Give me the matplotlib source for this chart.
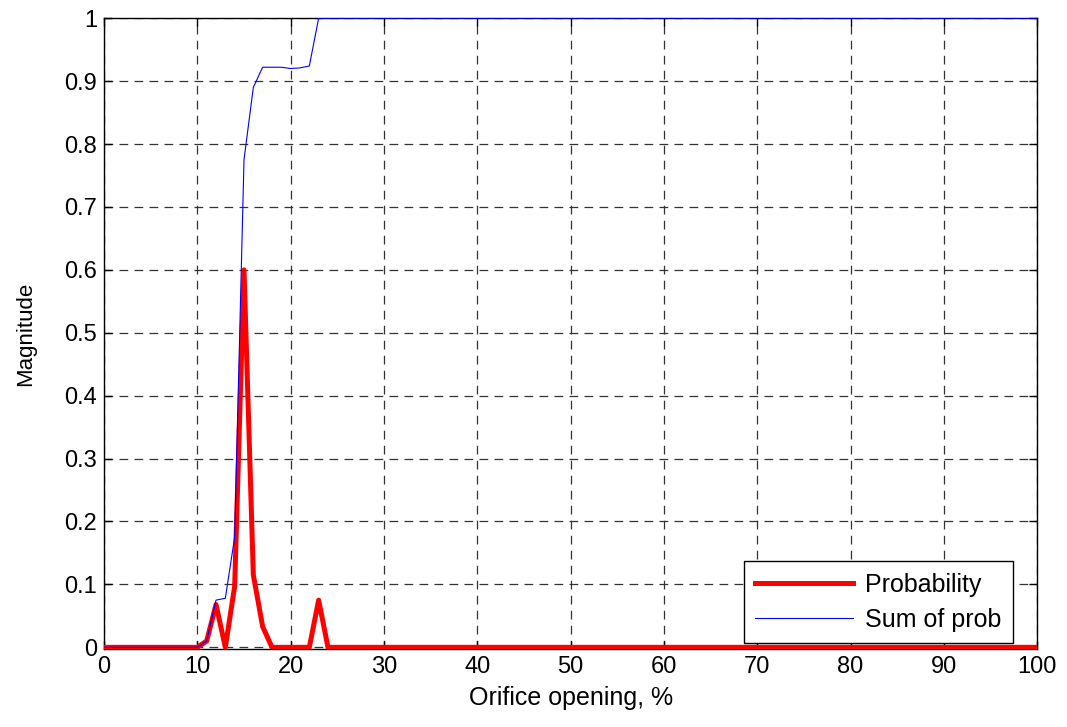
import numpy as np
import matplotlib
matplotlib.use('Agg')
import matplotlib.pyplot as plt

plt.rcParams['font.family'] = ['Liberation Sans', 'DejaVu Sans']

# orifice opening, percent
x = np.arange(0, 101)

# probability per opening step, 0..24 (zero beyond)
prob_head = [0, 0, 0, 0, 0, 0, 0, 0, 0, 0, 0,
             0.01, 0.068, 0.0, 0.097, 0.6, 0.115, 0.033, 0.0,
             0.0, 0.0, 0.0, 0.0, 0.075, 0.0]
# running sum of probability, 0..24 (one beyond)
sum_head = [0, 0, 0, 0, 0, 0, 0, 0, 0, 0, 0,
            0.01, 0.075, 0.078, 0.175, 0.775, 0.89, 0.922, 0.922,
            0.922, 0.92, 0.921, 0.924, 1.0, 1.0]

prob = np.array(prob_head + [0.0] * (len(x) - len(prob_head)))
cum = np.array(sum_head + [1.0] * (len(x) - len(sum_head)))

fig = plt.figure(figsize=(10.67, 7.27), dpi=100)
ax = fig.add_axes([0.0975, 0.107, 0.8745, 0.868])

ax.plot(x, prob, color='red', lw=3.6, label='Probability', zorder=3)
ax.plot(x, cum, color='blue', lw=0.8, label='Sum of prob', zorder=4)

ax.set_xlim(0, 100)
ax.set_ylim(-0.003, 1.0)
ax.set_xticks(np.arange(0, 101, 10))
ax.set_yticks(np.arange(0, 1.01, 0.1))
ax.set_yticklabels(['0', '0.1', '0.2', '0.3', '0.4', '0.5', '0.6', '0.7', '0.8', '0.9', '1'])
ax.tick_params(direction='in', top=True, right=True, labelsize=17, length=6, width=1, pad=5)
ax.grid(True, color='0.2', linestyle=(0, (7, 5)), lw=0.9)
for s in ax.spines.values():
    s.set_linewidth(1.0)

# slight letter spacing via wider font stretch isn't available, keep plain text
ax.set_xlabel('Orifice opening, %', fontsize=18, labelpad=6)
ax.set_ylabel('Magnitude', fontsize=16, labelpad=20)

leg = ax.legend(loc='lower right', bbox_to_anchor=(0.974, 0.0095), fontsize=18,
                fancybox=False, edgecolor='black', framealpha=1, handlelength=3.9,
                handletextpad=0.5, borderaxespad=0, borderpad=0.45, labelspacing=0.45)
leg.get_frame().set_linewidth(1.0)

fig.savefig('out.png', dpi=100)
